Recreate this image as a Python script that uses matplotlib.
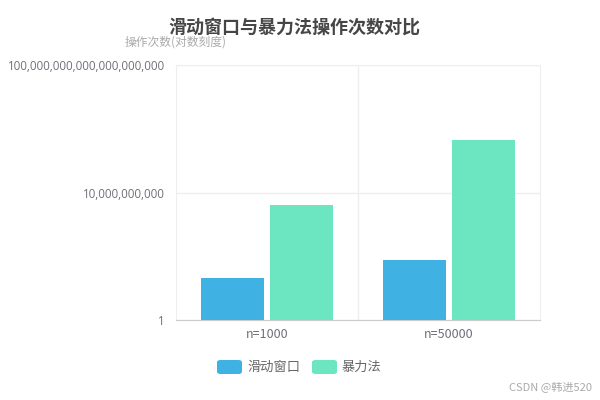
import matplotlib
matplotlib.use("Agg")
import matplotlib.pyplot as plt
from matplotlib.patches import FancyBboxPatch
from matplotlib.ticker import FixedLocator, FuncFormatter
import numpy as np

plt.rcParams['font.family'] = ['Noto Sans CJK SC', 'DejaVu Sans']

categories = ["n=1000", "n=50000"]
series_names = ["滑动窗口", "暴力法"]
sliding = [2000, 49000]
brute = [1.0e9, 1.25e14]
colors = ["#3fb1e3", "#6be6c1"]
title = "滑动窗口与暴力法操作次数对比"
yname = "操作次数(对数刻度)"
yticks = [1, 1e10, 1e20]

fig = plt.figure(figsize=(6, 4), dpi=100)
ax = fig.add_axes([176/600, 1-320/400, (540-176)/600, (320-65)/400])
ax.set_yscale('log')
ax.set_ylim(1, 1e20)
ax.set_xlim(0, 2)

x = np.arange(len(categories)) + 0.5
bw = 63/182
gap = 6/182
ax.bar(x - gap/2 - bw/2, sliding, width=bw, color=colors[0], zorder=3, label=series_names[0])
ax.bar(x + gap/2 + bw/2, brute, width=bw, color=colors[1], zorder=3, label=series_names[1])

ax.yaxis.set_major_locator(FixedLocator(yticks))
ax.yaxis.set_minor_locator(FixedLocator([]))
ax.yaxis.set_major_formatter(FuncFormatter(lambda v, p: f"{int(round(v)):,}"))
ax.set_xticks(x)
ax.set_xticklabels(categories)
ax.xaxis.set_minor_locator(FixedLocator([1.0]))
ax.tick_params(axis='x', which='both', length=0, colors='#6e7079', labelsize=9, pad=6)
ax.tick_params(axis='y', length=0, colors='#6e7079', labelsize=8.3, pad=8)
for lab in ax.get_yticklabels():
    lab.set_family(['Open Sans', 'DejaVu Sans'])
ax.grid(True, axis='y', which='major', color='#eeeeee', lw=1, zorder=0)
ax.grid(True, axis='x', which='minor', color='#eeeeee', lw=1, zorder=0)
for s in ['top', 'right']:
    ax.spines[s].set_color('#eeeeee')
ax.spines['left'].set_color('#eeeeee')
ax.spines['bottom'].set_color('#cccccc')

fig.text(294/600, 1-27/400, title, ha='center', va='center', fontsize=13,
         fontweight='bold', color='#464646')
fig.text(176/600, 1-42/400, yname, ha='center', va='center', fontsize=8.5, color='#aaaaaa')

# legend
legend_y = 1-367/400
items = [(217, series_names[0]), (312, series_names[1])]
for (lx, name), c in zip(items, colors):
    p = FancyBboxPatch((lx/600, legend_y - 7/400), 25/600, 14/400,
                       boxstyle="round,pad=0,rounding_size=0.006", transform=fig.transFigure,
                       facecolor=c, edgecolor='none')
    fig.patches.append(p)
    fig.text((lx+30)/600, legend_y, name, ha='left', va='center', fontsize=9.5, color='#666666')

fig.text(592/600, 1-387/400, "CSDN @韩进520", ha='right', va='center', fontsize=8, color='#aaaaaa')

fig.savefig("out.png", dpi=100)
